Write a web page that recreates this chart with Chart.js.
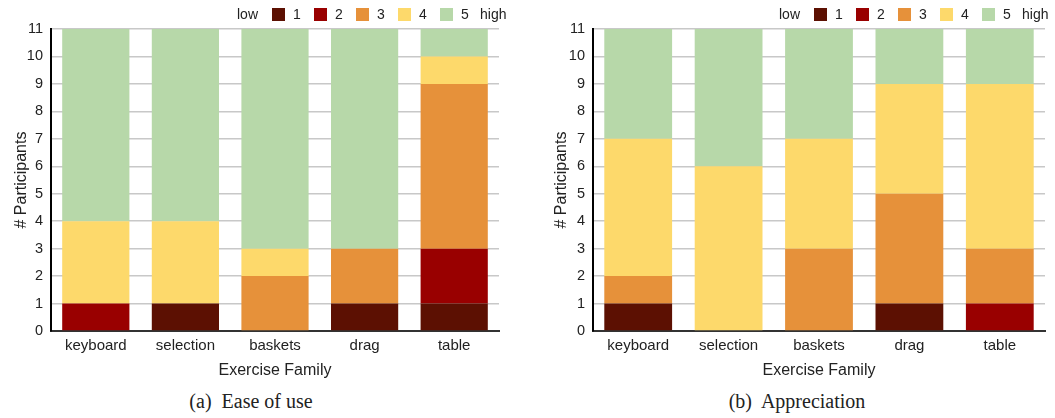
<!DOCTYPE html>
<html><head><meta charset="utf-8">
<script src="https://cdn.jsdelivr.net/npm/chart.js@4/dist/chart.umd.min.js"></script>
<style>
body{margin:0;width:1055px;height:418px;background:#fff;position:relative;overflow:hidden;font-family:"Liberation Sans",Arial,sans-serif;}
canvas{position:absolute;top:0;}
.legend{position:absolute;top:5px;height:18px;display:flex;align-items:center;font-size:14px;color:#222;white-space:nowrap;}
.legend .box{width:13px;height:13px;margin-left:13px;margin-right:8px;}
.legend .lab{display:inline-block;width:8px;}
.legend .high{margin-left:11px;}
.caption{position:absolute;top:390px;font-family:"Liberation Serif","DejaVu Serif",serif;font-size:20px;color:#222;transform:translateX(-50%);white-space:pre;}
</style></head>
<body>
<canvas id="c1" width="527" height="380" style="left:0px"></canvas>
<canvas id="c2" width="515" height="380" style="left:540px"></canvas>
<div class="legend" id="lg1" style="left:237px"></div>
<div class="legend" id="lg2" style="left:779px"></div>
<div class="caption" style="left:251px">(a)  Ease of use</div>
<div class="caption" style="left:797px">(b)  Appreciation</div>
<script>
const categories = ['keyboard','selection','baskets','drag','table'];
const levels = ['1','2','3','4','5'];
const levelColors = ['#5c1002','#990000','#e6913a','#fdd96b','#b7d8a9'];
const legendEnds = ['low','high'];
const yTicks = [0,1,2,3,4,5,6,7,8,9,10,11];

// (a) Ease of use: participants per rating level
const easeOfUse1 = [0,1,0,1,1];
const easeOfUse2 = [1,0,0,0,2];
const easeOfUse3 = [0,0,2,2,6];
const easeOfUse4 = [3,3,1,0,1];
const easeOfUse5 = [7,7,8,8,1];

// (b) Appreciation
const appreciation1 = [1,0,0,1,0];
const appreciation2 = [0,0,0,0,1];
const appreciation3 = [1,0,3,4,2];
const appreciation4 = [5,6,4,4,6];
const appreciation5 = [4,5,4,2,2];

const xTitle = 'Exercise Family';
const yTitle = '# Participants';

function buildLegend(id){
  const el = document.getElementById(id);
  let html = '<span style="margin-right:1px">'+legendEnds[0]+'</span>';
  levels.forEach((l,i)=>{
    html += '<span class="box" style="background:'+levelColors[i]+'"></span><span class="lab">'+l+'</span>';
  });
  html += '<span class="high">'+legendEnds[1]+'</span>';
  el.innerHTML = html;
}
buildLegend('lg1'); buildLegend('lg2');

const FONT = '"Liberation Sans", Arial, sans-serif';

function makeChart(id, series, yWidth, padRight){
  const datasets = series.map((d,i)=>({
    label: levels[i], data: d, backgroundColor: levelColors[i], borderWidth:0,
    barPercentage:0.75, categoryPercentage:1.0
  }));
  new Chart(document.getElementById(id), {
    type:'bar',
    data:{labels:categories, datasets},
    options:{
      responsive:false, animation:false, devicePixelRatio:1,
      layout:{padding:{top:29,right:padRight,left:0,bottom:0}},
      plugins:{legend:{display:false}, tooltip:{enabled:false}},
      scales:{
        x:{stacked:true,
           grid:{display:false,drawTicks:false},
           border:{color:'#333',width:2},
           ticks:{color:'#222',font:{family:FONT,size:15},padding:6,maxRotation:0},
           title:{display:true,text:xTitle,color:'#222',font:{family:FONT,size:16},padding:{top:0,bottom:0}},
           afterFit(s){s.height=49;}
        },
        y:{stacked:true,min:0,max:11,
           afterBuildTicks(s){s.ticks=yTicks.map(v=>({value:v}));},
           grid:{color:'#c8c8c8',lineWidth:1.5,drawTicks:false},
           border:{color:'#000',width:2},
           ticks:{color:'#222',font:{family:FONT,size:14.5},padding:8},
           title:{display:true,text:yTitle,color:'#222',font:{family:FONT,size:16},padding:{top:12,bottom:0}},
           afterFit(s){s.width=yWidth;}
        }
      }
    }
  });
}
makeChart('c1',[easeOfUse1,easeOfUse2,easeOfUse3,easeOfUse4,easeOfUse5],51,28);
makeChart('c2',[appreciation1,appreciation2,appreciation3,appreciation4,appreciation5],53,10);
</script>
</body></html>
